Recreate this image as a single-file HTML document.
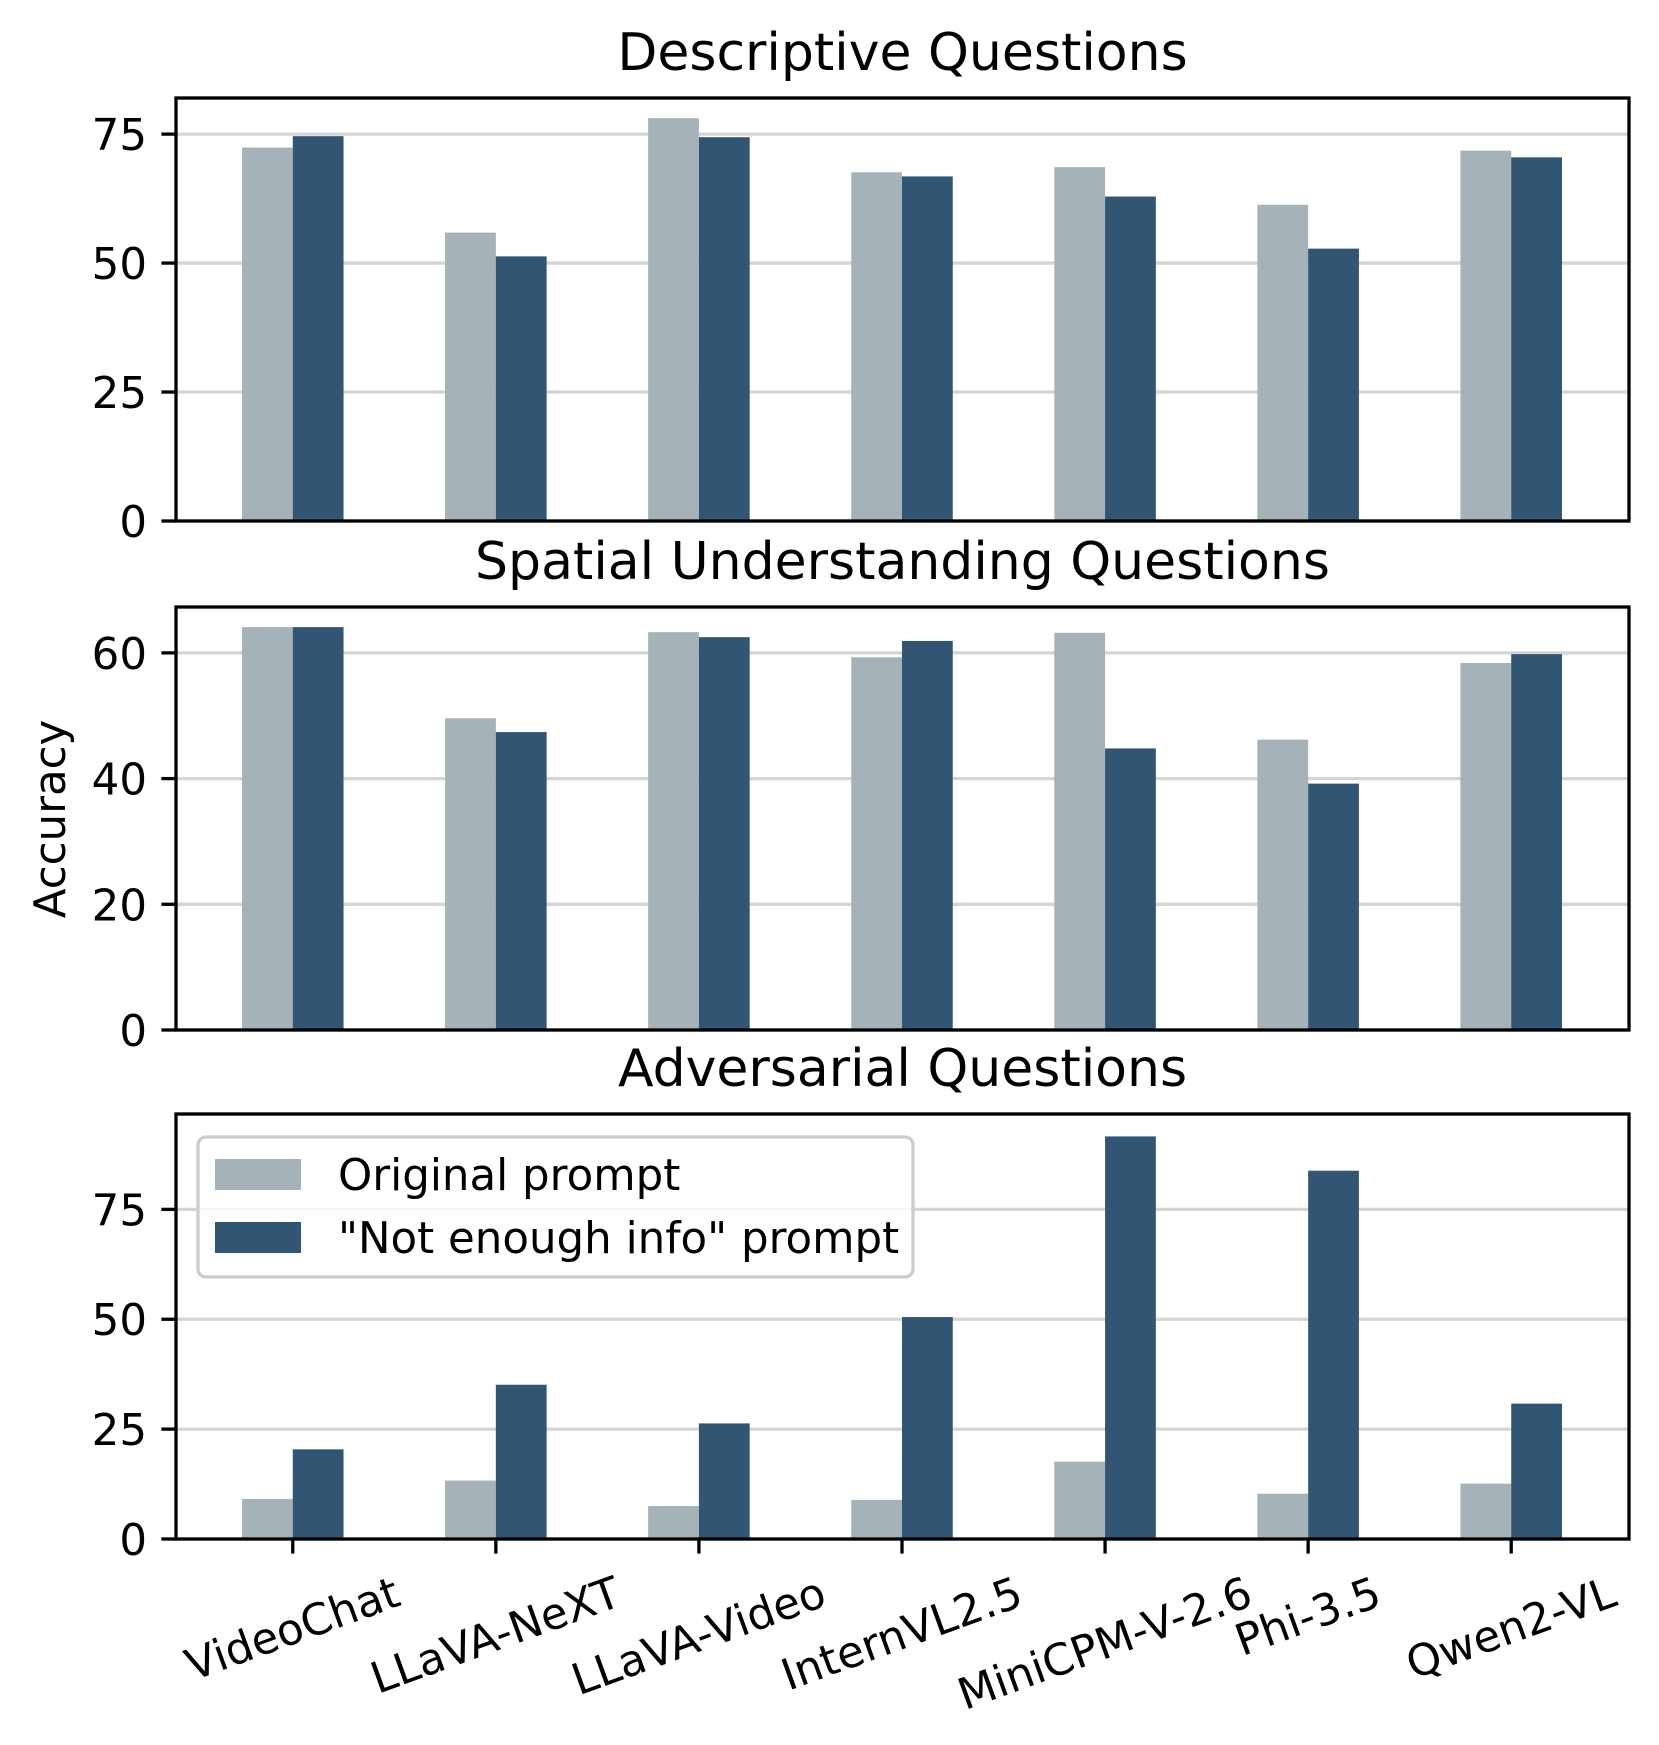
<!DOCTYPE html>
<html><head><meta charset="utf-8"><style>
html,body{margin:0;padding:0;background:#fff;}
svg{display:block;font-family:"DejaVu Sans","Liberation Sans",sans-serif;}
</style></head><body>
<svg id="chart" width="1659" height="1745" viewBox="0 0 1659 1745" xmlns="http://www.w3.org/2000/svg"></svg>
<script>
const categories = ["VideoChat","LLaVA-NeXT","LLaVA-Video","InternVL2.5","MiniCPM-V-2.6","Phi-3.5","Qwen2-VL"];
const panelTitles = ["Descriptive Questions","Spatial Understanding Questions","Adversarial Questions"];
const descOriginal = [72.4, 55.9, 78.1, 67.6, 68.6, 61.3, 71.8];
const descNotEnough = [74.6, 51.3, 74.4, 66.8, 62.9, 52.8, 70.5];
const spatOriginal = [64.1, 49.6, 63.3, 59.3, 63.2, 46.2, 58.4];
const spatNotEnough = [64.1, 47.4, 62.5, 61.9, 44.8, 39.2, 59.8];
const advOriginal = [9.1, 13.3, 7.5, 8.9, 17.6, 10.3, 12.6];
const advNotEnough = [20.4, 35.1, 26.3, 50.5, 91.6, 83.8, 30.8];
const ticks1 = [0,25,50,75];
const ticks2 = [0,20,40,60];
const ticks3 = [0,25,50,75];
const seriesNames = ["Original prompt","\"Not enough info\" prompt"];

const NS="http://www.w3.org/2000/svg";
const svg=document.getElementById('chart');
const C1="#a5b3b9", C2="#325573";
const L=176, R=1629, FS=43.5;
const xmin=-0.575, xmax=6.58, barW=0.25;
function xs(v){return L+(v-xmin)/(xmax-xmin)*(R-L);}
function mk(tag,attrs,parent){const e=document.createElementNS(NS,tag);for(const k in attrs)e.setAttribute(k,attrs[k]);(parent||svg).appendChild(e);return e;}

const panels=[
 {top:98,bottom:521,ymax:82.0,ticks:ticks1,a:descOriginal,b:descNotEnough,key:'descriptive'},
 {top:607,bottom:1030,ymax:67.3,ticks:ticks2,a:spatOriginal,b:spatNotEnough,key:'spatial'},
 {top:1114,bottom:1539,ymax:96.7,ticks:ticks3,a:advOriginal,b:advNotEnough,key:'adversarial'}
];

panels.forEach((p,pi)=>{
  const g=mk('g',{});
  
  
  const ys=v=>p.bottom-v/p.ymax*(p.bottom-p.top);
  p.ticks.forEach(t=>{
    const gl=mk('line',{x1:L,x2:R,y1:ys(t),y2:ys(t),stroke:'#d4d4d4','stroke-width':3.3},g);
    
    
  });
  categories.forEach((c,i)=>{
    const r1=mk('rect',{x:xs(i-barW),y:ys(p.a[i]),width:xs(i)-xs(i-barW),height:p.bottom-ys(p.a[i]),fill:C1},g);
    
    
    const r2=mk('rect',{x:xs(i),y:ys(p.b[i]),width:xs(i+barW)-xs(i),height:p.bottom-ys(p.b[i]),fill:C2},g);
    
    
  });
  p.ticks.forEach(t=>{
    mk('line',{x1:L-14.6,x2:L,y1:ys(t),y2:ys(t),stroke:'#000','stroke-width':3.3},g);
    const tl=mk('text',{x:L-29,y:ys(t)+16,'text-anchor':'end','font-size':FS,fill:'#000'},g);
    tl.textContent=t;
    
    
  });
  const fr=mk('rect',{x:L,y:p.top,width:R-L,height:p.bottom-p.top,fill:'none',stroke:'#000','stroke-width':3.3},g);
  
  
  const tt=mk('text',{x:(L+R)/2,y:p.top-28,'text-anchor':'middle','font-size':52,fill:'#000'},g);
  tt.textContent=panelTitles[pi];
  
  
});

const pb=panels[2];
categories.forEach((c,i)=>{
  const x=xs(i);
  mk('line',{x1:x,x2:x,y1:pb.bottom,y2:pb.bottom+14.6,stroke:'#000','stroke-width':3.3});
  const t=mk('text',{'text-anchor':'middle','dominant-baseline':'central','font-size':FS,fill:'#000'});
  t.textContent=c;
  
  
  const W=t.getComputedTextLength();
  const a=20*Math.PI/180;
  const h=W*Math.sin(a)+50*Math.cos(a);
  const cy=pb.bottom+29+h/2;
  t.setAttribute('x',x);t.setAttribute('y',cy);
  t.setAttribute('transform','rotate(-20 '+x+' '+cy+')');
});

const yl=mk('text',{x:0,y:0,'text-anchor':'middle','font-size':FS,fill:'#000',transform:'translate(65,819) rotate(-90)'});
yl.textContent='Accuracy';



const lg=mk('g',{});


mk('rect',{x:198,y:1137,width:715,height:140,rx:8,fill:'#fff','fill-opacity':0.8,stroke:'#cccccc','stroke-width':3.3},lg);
[[C1,1159,1190],[C2,1222,1253]].forEach((d,k)=>{
  const e=mk('g',{},lg);
  
  
  mk('rect',{x:215,y:d[1],width:86,height:31,fill:d[0]},e);
  const t=mk('text',{x:338,y:d[2],'font-size':FS,fill:'#000'},e);
  t.textContent=seriesNames[k];
});
</script>
</body></html>
